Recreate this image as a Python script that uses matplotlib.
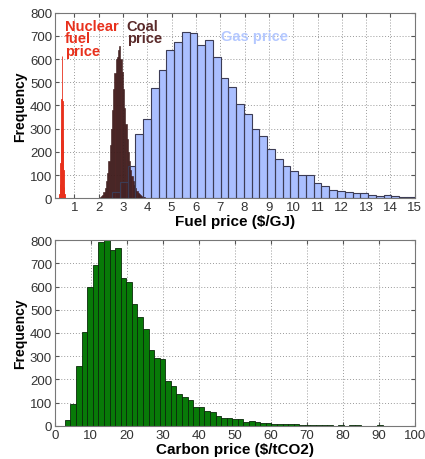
import numpy as np
import matplotlib
matplotlib.use("Agg")
import matplotlib.pyplot as plt

plt.rcParams['font.family'] = ['Liberation Sans', 'DejaVu Sans']

# fuel price histograms (counts per bin)
nuclear_start, nuclear_width = 0.36, 0.02
nuclear_counts = [5, 20, 60, 150, 300, 430, 615, 420, 250, 120, 50, 20, 6, 2]

coal_start, coal_width = 2.0, 0.05
coal_counts = [2, 4, 8, 15, 28, 45, 75, 110, 160, 230, 300, 380, 470, 540, 600,
               610, 640, 655, 600, 545, 470, 390, 320, 255, 200, 160, 120, 95,
               72, 55, 42, 32, 24, 18, 13, 9, 6, 4, 2, 1]

gas_start, gas_width = 2.55, 0.319
gas_counts = [26, 69, 137, 278, 340, 475, 554, 640, 676, 717, 711, 659, 683,
              609, 518, 479, 407, 364, 299, 268, 213, 167, 141, 119, 102, 98,
              65, 52, 36, 29, 26, 23, 22, 12, 9, 13, 10, 6, 3]

# carbon price histogram
carbon_start, carbon_width = 2.8, 1.55
carbon_counts = [24, 95, 259, 402, 599, 694, 793, 800, 757, 767, 635, 618, 524,
                 470, 417, 328, 292, 287, 194, 170, 136, 125, 112, 83, 83, 65,
                 60, 43, 32, 34, 29, 29, 17, 20, 17, 11, 14, 9, 9, 7, 9, 6, 4,
                 4, 3, 3, 2, 2, 1, 5, 1, 3, 3, 0, 0, 1, 2, 1]

fuel_ticks = list(range(1, 16))
carbon_ticks = list(range(0, 101, 10))
freq_ticks = list(range(0, 801, 100))


def lefts(start, width, counts):
    return start + width * np.arange(len(counts))


def style(ax):
    ax.set_ylim(0, 800)
    ax.set_yticks(freq_ticks)
    ax.grid(True, color="#9a9a9a", linestyle=(0, (1, 2)), linewidth=0.7)
    ax.set_axisbelow(True)
    ax.tick_params(direction="in", length=3, labelsize=9.5, colors="#555555",
                   labelcolor="#333333", top=True, right=True, pad=2)
    for s in ax.spines.values():
        s.set_color("#777777")
        s.set_linewidth(0.8)
    ax.set_ylabel("Frequency", fontsize=10, fontweight="bold", labelpad=2)


fig = plt.figure(figsize=(4.25, 4.6), dpi=100)
ax1 = fig.add_axes([0.129, 0.567, 0.847, 0.403])
ax2 = fig.add_axes([0.129, 0.072, 0.847, 0.404])

# top: fuel prices
gx = lefts(gas_start, gas_width, gas_counts)
ax1.bar(gx, gas_counts, width=gas_width, align="edge", color="#aabfff",
        edgecolor="none", zorder=2)
ax1.bar(lefts(coal_start, coal_width, coal_counts), coal_counts, width=coal_width,
        align="edge", color="#4e2626", edgecolor="#3a1818", linewidth=0.4, zorder=3)
ax1.bar(gx, gas_counts, width=gas_width, align="edge", facecolor="none",
        edgecolor="#3c3c55", linewidth=0.8, zorder=4)
ax1.bar(lefts(nuclear_start, nuclear_width, nuclear_counts), nuclear_counts,
        width=nuclear_width, align="edge", color="#e8301c", edgecolor="#e8301c",
        linewidth=0.6, zorder=3)
ax1.set_xlim(0.2, 15)
ax1.set_xticks(fuel_ticks)
style(ax1)
ax1.set_xlabel("Fuel price ($/GJ)", fontsize=11, fontweight="bold", labelpad=1)
ax1.text(0.62, 775, "Nuclear\nfuel\nprice", color="#e8301c", fontsize=10.5,
         fontweight="bold", va="top", ha="left", linespacing=0.9, zorder=5)
ax1.text(3.15, 775, "Coal\nprice", color="#5a2a2a", fontsize=10.5,
         fontweight="bold", va="top", ha="left", linespacing=0.9, zorder=5)
ax1.text(7.05, 700, "Gas price", color="#b4c8ff", fontsize=10.5,
         fontweight="bold", va="center", ha="left", zorder=5)

# bottom: carbon price
ax2.bar(lefts(carbon_start, carbon_width, carbon_counts), carbon_counts,
        width=carbon_width, align="edge", color="#087a08", edgecolor="#0a2a0a",
        linewidth=0.6, zorder=2)
ax2.set_xlim(0, 100)
ax2.set_xticks(carbon_ticks)
style(ax2)
ax2.set_xlabel("Carbon price ($/tCO2)", fontsize=11, fontweight="bold", labelpad=1)

fig.savefig("out.png", dpi=100)
